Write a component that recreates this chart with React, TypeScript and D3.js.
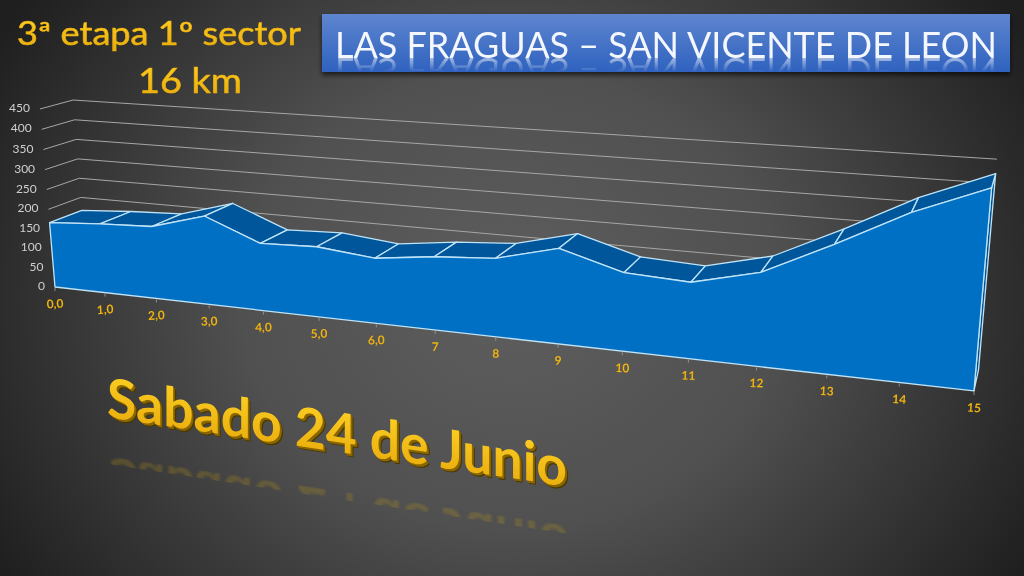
import React from "react";
import * as d3 from "d3";

const categoryLabels = ["0,0","1,0","2,0","3,0","4,0","5,0","6,0","7","8","9","10","11","12","13","14","15"];
const elevations = [166,175,181,219,165,170,156,173,183,219,178,171,207,280,359,420];
const yTicks = [0,50,100,150,200,250,300,350,400,450];
const titleMain = "LAS FRAGUAS – SAN VICENTE DE LEON";
const titleStage = "3ª etapa 1º sector";
const titleDistance = "16 km";
const titleDate = "Sabado 24 de Junio";

const uScale = d3.scaleLinear().domain([0, categoryLabels.length - 1]).range([0, 1]);
const vScale = d3.scaleLinear().domain([0, 450]).range([0, 1]);

// Perspective camera fitted to the picture: homogeneous projection of (u, v, depth).
const cam = {
  o: [55, 287], bx: [730.5, 28.3], vy: [-16.3, -181.5], dz: [34.4, -5.5],
  wu: -0.1935, wv: -0.0318, wd: 0.0314,
};
type P = [number, number];
function project(i: number, value: number, depth: number): P {
  const u = uScale(i), v = vScale(value);
  const w = 1 + cam.wu * u + cam.wv * v + cam.wd * depth;
  return [
    (cam.o[0] + cam.bx[0] * u + cam.vy[0] * v + cam.dz[0] * depth) / w,
    (cam.o[1] + cam.bx[1] * u + cam.vy[1] * v + cam.dz[1] * depth) / w,
  ];
}
const line = d3.line<P>();
const closed = (pts: P[]) => line(pts) + "Z";

const GOLD = "#efb30f";
const LIGHT = "#bfe3f7";

export default function App() {
  const n = elevations.length;
  const idx = d3.range(n);
  const frontTop = idx.map((i) => project(i, elevations[i], 0));
  const backTop = idx.map((i) => project(i, elevations[i], 1));
  const frontFloor = idx.map((i) => project(i, 0, 0));
  const last = n - 1;
  const frontPoly: P[] = [project(0, 0, 0), ...frontTop, project(last, 0, 0)];
  const sidePoly: P[] = [project(last, 0, 0), frontTop[last], backTop[last], project(last, 0, 1)];

  return (
    <svg width={1024} height={576} viewBox="0 0 1024 576"
      style={{ position: "fixed", left: 0, top: 0, display: "block" }}>
      <defs>
        <radialGradient id="bg" gradientUnits="userSpaceOnUse" cx={512} cy={300} r={600}
          gradientTransform="translate(512 300) scale(1 0.85) translate(-512 -300)">
          <stop offset="0" stopColor="#5e5e5e" />
          <stop offset="0.45" stopColor="#505050" />
          <stop offset="1" stopColor="#1f1f1f" />
        </radialGradient>
        <linearGradient id="banner" x1="0" y1="0" x2="0" y2="1">
          <stop offset="0" stopColor="#5e85cf" />
          <stop offset="1" stopColor="#2f62bf" />
        </linearGradient>
        <linearGradient id="gold" x1="0" y1="0" x2="0" y2="1">
          <stop offset="0" stopColor="#ffd528" />
          <stop offset="1" stopColor="#e8a90a" />
        </linearGradient>
        <linearGradient id="titleFade" gradientUnits="userSpaceOnUse" x1="0" y1="58" x2="0" y2="72">
          <stop offset="0" stopColor="#fff" stopOpacity="0.55" />
          <stop offset="1" stopColor="#fff" stopOpacity="0" />
        </linearGradient>
        <mask id="titleMask" maskUnits="userSpaceOnUse" x="322" y="58" width="688" height="14">
          <rect x={322} y={58} width={688} height={14} fill="url(#titleFade)" />
        </mask>
        <filter id="shadow" x="-5%" y="-20%" width="110%" height="150%">
          <feDropShadow dx="0" dy="3" stdDeviation="2.5" floodColor="#000" floodOpacity="0.65" />
        </filter>
        <filter id="soft"><feGaussianBlur stdDeviation="0.35" /></filter>
        <filter id="blurR"><feGaussianBlur stdDeviation="1" /></filter>
        <clipPath id="dateClip"><rect x={-10} y={39} width={500} height={8} /></clipPath>
      </defs>

      <rect width={1024} height={576} fill="url(#bg)" />

      {/* Wall gridlines */}
      <g fill="none" stroke="#a8a6a2" strokeWidth={1} filter="url(#soft)">
        {yTicks.map((t) => (
          <path key={t} d={line([project(0, t, 0), project(0, t, 1), project(last, t, 1)]) ?? ""} />
        ))}
      </g>

      {/* Y axis labels */}
      <g fontFamily="Lato, sans-serif" fontSize={12} fill="#cfcfcf" textAnchor="end">
        {yTicks.map((t) => {
          const [x, y] = project(0, t, 0);
          return <text key={t} x={x - 10} y={y + 3}>{t}</text>;
        })}
      </g>

      {/* Terrain 3D ribbon */}
      <g stroke={LIGHT} strokeWidth={1.3} strokeLinejoin="round" filter="url(#soft)">
        <path d={closed(sidePoly)} fill="#00508f" />
        {idx.slice(0, -1).map((i) => (
          <path key={i} fill="#00569b"
            d={closed([frontTop[i], frontTop[i + 1], backTop[i + 1], backTop[i]])} />
        ))}
        <path d={closed(frontPoly)} fill="#0070c4" />
      </g>

      {/* X ticks and labels */}
      <g stroke="#8f8f8f" strokeWidth={1}>
        {frontFloor.map(([x, y], i) => <line key={i} x1={x} x2={x} y1={y + 1} y2={y + 4} />)}
      </g>
      <g fontFamily="Lato, sans-serif" fontWeight={700} fontSize={12} fill={GOLD} textAnchor="middle">
        {frontFloor.map(([x, y], i) => (
          <text key={i} x={x} y={y + 21}
            transform={`rotate(${-4 + (i / last) * 8} ${x} ${y + 17})`}>{categoryLabels[i]}</text>
        ))}
      </g>

      {/* Banner */}
      <rect x={322} y={14} width={688} height={58} fill="url(#banner)" filter="url(#shadow)" />
      <text x={335} y={58} fontFamily="Lato, sans-serif" fontSize={37.5} fill="#f4f7fd"
        textLength={662} lengthAdjust="spacingAndGlyphs">{titleMain}</text>
      <g mask="url(#titleMask)">
        <text transform="translate(0 116) scale(1 -1)" x={335} y={58} fontFamily="Lato, sans-serif"
          fontSize={37.5} fill="#ffffff" textLength={662} lengthAdjust="spacingAndGlyphs">{titleMain}</text>
      </g>

      {/* Gold titles */}
      <g fontFamily="Lato, sans-serif" fill="url(#gold)" stroke={GOLD} strokeWidth={0.6} filter="url(#soft)">
        <text x={17} y={45} fontSize={32} textLength={284} lengthAdjust="spacingAndGlyphs">{titleStage}</text>
        <text x={138} y={92.5} fontSize={35} textLength={104} lengthAdjust="spacingAndGlyphs">{titleDistance}</text>
      </g>

      {/* Date, skewed with extrusion and faint reflection */}
      <g transform="translate(107 417) skewY(8.6)" fontFamily="Lato, sans-serif" fontWeight={700} fontSize={55}>
        <g clipPath="url(#dateClip)" opacity={0.22} filter="url(#blurR)">
          <text transform="translate(2 39) scale(1 -1)" fill="#d0a514" textLength={460} lengthAdjust="spacingAndGlyphs">{titleDate}</text>
        </g>
        {[3, 2, 1].map((o) => (
          <text key={o} x={o} y={o} fill={o === 3 ? "#4a3800" : "#8a6600"} textLength={460} lengthAdjust="spacingAndGlyphs">{titleDate}</text>
        ))}
        <text x={0} y={0} fill="url(#gold)" textLength={460} lengthAdjust="spacingAndGlyphs">{titleDate}</text>
      </g>
    </svg>
  );
}
